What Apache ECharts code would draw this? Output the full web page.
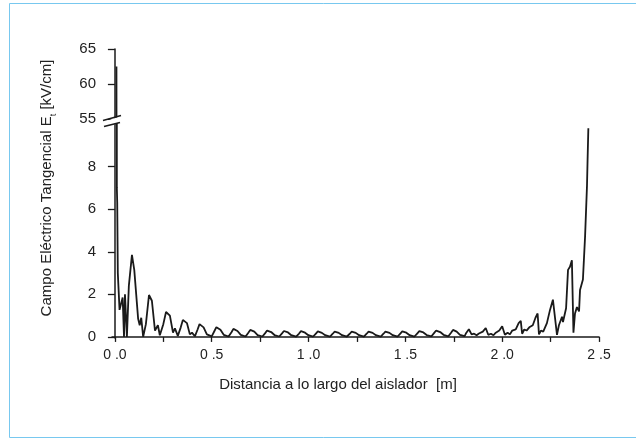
<!DOCTYPE html>
<html>
<head>
<meta charset="utf-8">
<script src="https://cdn.jsdelivr.net/npm/echarts@6/dist/echarts.min.js"></script>
<style>html,body{margin:0;padding:0;background:#fff}#c{width:636px;height:441px}</style>
</head>
<body>
<div id="c"></div>
<script>
// distance along the insulator [m]
var distance = [
 0.008,0.010,0.012,0.015,0.024,0.040,0.047,0.052,0.062,0.072,0.088,0.100,0.120,0.128,0.136,0.146,
 0.160,0.176,0.191,0.207,0.222,0.232,
 0.250,0.264,0.284,0.300,0.310,0.325,
 0.340,0.351,0.372,0.387,0.398,0.413,
 0.427,0.437,0.458,0.475,0.485,0.500,
 0.514,0.524,0.545,0.562,0.572,0.587,
 0.602,0.612,0.633,0.650,0.660,0.675,
 0.689,0.699,0.720,0.737,0.747,0.762,
 0.776,0.786,0.807,0.824,0.834,0.849,
 0.863,0.873,0.894,0.911,0.921,0.936,
 0.951,0.961,0.982,0.999,1.009,1.024,
 1.038,1.048,1.069,1.086,1.096,1.111,
 1.125,1.135,1.156,1.173,1.183,1.198,
 1.213,1.223,1.244,1.261,1.271,1.286,
 1.300,1.310,1.331,1.348,1.358,1.373,
 1.387,1.397,1.418,1.435,1.445,1.460,
 1.474,1.484,1.505,1.522,1.532,1.547,
 1.562,1.572,1.593,1.610,1.620,1.635,
 1.649,1.659,1.680,1.697,1.707,1.722,
 1.736,1.746,1.765,1.782,1.792,1.806,
 1.815,1.828,1.834,1.842,1.855,1.868,1.880,
 1.900,1.915,1.921,1.928,1.942,1.955,1.967,
 1.985,2.000,2.008,2.014,2.028,2.040,2.052,
 2.070,2.085,2.096,2.103,2.114,2.126,2.140,
 2.158,2.172,2.183,2.190,2.200,2.212,2.231,
 2.247,2.262,2.272,2.283,2.293,2.309,2.314,2.330,
 2.340,2.350,2.360,2.368,2.376,2.386,2.397,2.402,2.417,2.428,2.438,2.441,2.445
];
// tangential electric field [kV/cm]
var field = [
 62.5,7.0,6.3,3.0,1.27,1.85,0.0,2.0,0.0,2.4,3.85,3.15,0.85,0.55,0.9,0.0,
 0.6,1.97,1.7,0.3,0.55,0.08,
 0.6,1.17,1.0,0.2,0.4,0.05,
 0.45,0.8,0.65,0.12,0.2,0.03,
 0.35,0.6,0.45,0.12,0.18,0.03,
 0.28,0.46,0.34,0.1,0.15,0.02,
 0.22,0.38,0.28,0.1,0.14,0.02,
 0.2,0.33,0.25,0.09,0.13,0.02,
 0.18,0.30,0.23,0.09,0.12,0.02,
 0.17,0.28,0.21,0.08,0.12,0.02,
 0.16,0.27,0.2,0.08,0.11,0.02,
 0.16,0.26,0.19,0.08,0.11,0.02,
 0.15,0.25,0.19,0.08,0.11,0.02,
 0.15,0.25,0.19,0.08,0.11,0.02,
 0.15,0.25,0.19,0.08,0.11,0.02,
 0.15,0.25,0.19,0.08,0.11,0.02,
 0.16,0.26,0.2,0.08,0.11,0.02,
 0.17,0.27,0.21,0.09,0.12,0.03,
 0.19,0.30,0.23,0.1,0.13,0.03,
 0.2,0.33,0.25,0.1,0.14,0.04,
 0.2,0.36,0.42,0.12,0.15,0.08,0.16,
 0.25,0.42,0.47,0.1,0.15,0.08,0.2,
 0.3,0.5,0.56,0.1,0.2,0.12,0.3,
 0.35,0.65,0.75,0.15,0.35,0.3,0.45,
 0.55,0.9,1.1,0.12,0.3,0.25,0.65,
 1.27,1.75,1.8,0.1,0.55,0.95,0.7,1.35,
 3.15,3.3,3.6,0.2,1.1,1.4,1.2,2.2,2.7,4.7,7.1,8.3,9.8
];
var xMajorTicks = [0, 0.5, 1.0, 1.5, 2.0, 2.5];
var xMinorTicks = [0, 0.25, 0.5, 0.75, 1.0, 1.25, 1.5, 1.75, 2.0, 2.25, 2.5];
var yLowerTicks = [0, 2, 4, 6, 8];
var yUpperTicks = [55, 60, 65];
var xTitle = 'Distancia a lo largo del aislador  [m]';
var yTitle = 'Campo Eléctrico Tangencial E{s|t} [kV/cm]';

var FONT = '"Liberation Sans", Arial, sans-serif';
var INK = '#1a1a1a';
var points = distance.map(function (d, i) { return [d, field[i]]; });

var G_LEFT = 112, G_RIGHT = 37;
var UP_TOP = 49, UP_H = 70;        // upper panel 49..119
var LO_TOP = 124, LO_BOTTOM = 103; // lower panel 124..338
var breakY = (UP_TOP + UP_H + LO_TOP) / 2;

var axisLineStyle = { lineStyle: { color: INK, width: 1.5 } };
var chart = echarts.init(document.getElementById('c'), null, { renderer: 'canvas' });
chart.setOption({
  animation: false,
  backgroundColor: '#fff',
  grid: [
    { left: G_LEFT, right: G_RIGHT, top: UP_TOP, height: UP_H },
    { left: G_LEFT, right: G_RIGHT, top: LO_TOP, bottom: LO_BOTTOM }
  ],
  xAxis: [
    { type: 'value', gridIndex: 0, min: -0.015, max: 2.5, show: false },
    { type: 'value', gridIndex: 1, min: -0.015, max: 2.5,
      axisLine: axisLineStyle,
      axisTick: { show: true, inside: false, length: 5, customValues: xMinorTicks, lineStyle: { color: INK, width: 1.3 } },
      axisLabel: { customValues: xMajorTicks, margin: 10, color: '#222', fontSize: 14, fontFamily: FONT,
        formatter: function (v) { return v.toFixed(1).replace('.', ' .'); } },
      splitLine: { show: false } }
  ],
  yAxis: [
    { type: 'value', gridIndex: 0, min: 55, max: 65,
      axisLine: axisLineStyle,
      axisTick: { show: true, length: 7, customValues: yUpperTicks, lineStyle: { color: INK, width: 1.3 } },
      axisLabel: { customValues: yUpperTicks, margin: 16, color: '#222', fontSize: 15, fontFamily: FONT },
      splitLine: { show: false } },
    { type: 'value', gridIndex: 1, min: -0.05, max: 10,
      axisLine: axisLineStyle,
      axisTick: { show: true, length: 7, customValues: yLowerTicks, lineStyle: { color: INK, width: 1.3 } },
      axisLabel: { customValues: yLowerTicks, margin: 16, color: '#222', fontSize: 15, fontFamily: FONT },
      splitLine: { show: false } }
  ],
  series: [
    { type: 'line', xAxisIndex: 0, yAxisIndex: 0, data: points, showSymbol: false, clip: true,
      lineStyle: { color: INK, width: 1.8 } },
    { type: 'line', xAxisIndex: 1, yAxisIndex: 1, data: points, showSymbol: false, clip: true,
      lineStyle: { color: INK, width: 1.8 } }
  ],
  graphic: [
    { type: 'rect', shape: { x: 9.5, y: 3.5, width: 640, height: 434 },
      style: { fill: 'none', stroke: '#78c8ef', lineWidth: 1 }, silent: true },
    { type: 'polygon', shape: { points: [[104, breakY], [120, breakY - 5], [120, breakY + 1], [104, breakY + 6]] },
      style: { fill: '#fff' }, z: 50 },
    { type: 'line', shape: { x1: 103, y1: breakY - 1, x2: 121, y2: breakY - 6 }, style: { stroke: INK, lineWidth: 1.3 }, z: 51 },
    { type: 'line', shape: { x1: 104, y1: breakY + 5, x2: 120, y2: breakY + 1 }, style: { stroke: INK, lineWidth: 1.3 }, z: 51 },
    { type: 'text', x: 338, y: 385, style: { text: xTitle, font: '15px ' + FONT, fill: '#222', align: 'center', verticalAlign: 'middle' } },
    { type: 'text', x: 47, y: 188, rotation: Math.PI / 2,
      style: { text: yTitle, fill: '#222', align: 'center', verticalAlign: 'middle',
        fontSize: 15, fontFamily: FONT, lineHeight: 22,
        rich: { s: { fontSize: 9, fontFamily: FONT, fill: '#222', verticalAlign: 'bottom', lineHeight: 10 } } } }
  ]
});
</script>
</body>
</html>
